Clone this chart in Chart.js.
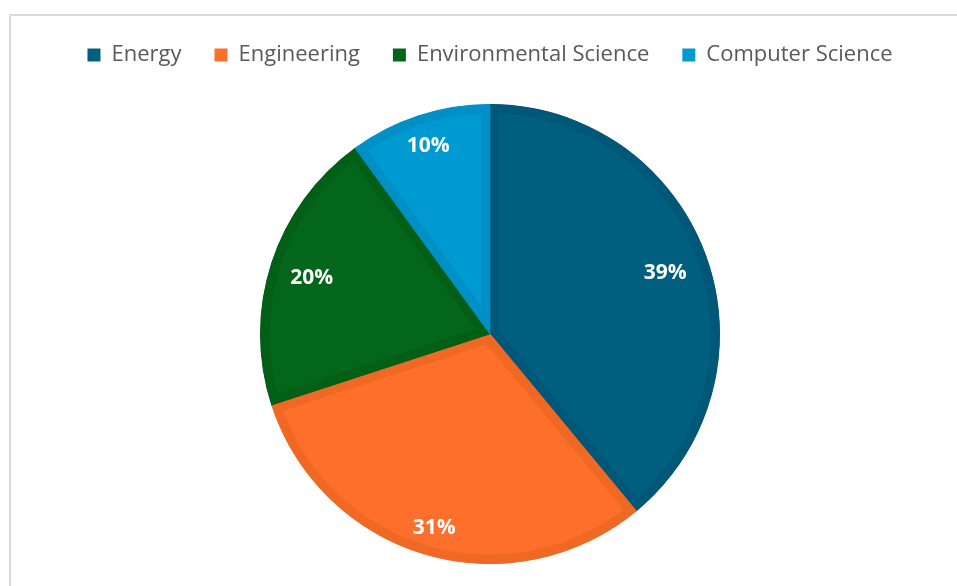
<!DOCTYPE html>
<html>
<head>
<meta charset="utf-8">
<script src="https://cdn.jsdelivr.net/npm/chart.js@4/dist/chart.umd.min.js"></script>
<style>
    html, body { margin: 0; padding: 0; background: #fff; overflow: hidden; }
    #marco {
        position: absolute; left: 9px; top: 14px; width: 1000px; height: 700px;
        border-top: 2px solid #d9d9d9; border-left: 2px solid #d9d9d9;
    }
    #caja { position: absolute; left: 0; top: 0; width: 957px; height: 586px; }
</style>
</head>
<body>
<div id="marco"></div>
<div id="caja"><canvas id="graficoPie"></canvas></div>
<script>
const categorias = ["Energy", "Engineering", "Environmental Science", "Computer Science"];
const porcentajes = [39, 31, 20, 10];
const etiquetas = ["39%", "31%", "20%", "10%"];

const rellenos = ["#005e7e", "#fd6f2a", "#03661a", "#009ad3"];
const bordes = ["#005777", "#ef6824", "#035e16", "#0090c6"];

// distancia de cada etiqueta desde el centro (fraccion del radio)
const distEtiqueta = [0.81, 0.87, 0.815, 0.87];

const pluginEtiquetas = {
    id: 'etiquetas',
    afterDatasetsDraw(chart) {
        const ctx = chart.ctx;
        const meta = chart.getDatasetMeta(0);
        ctx.save();
        ctx.fillStyle = '#ffffff';
        ctx.font = 'bold 21px "Open Sans", "Liberation Sans", sans-serif';
        ctx.textAlign = 'center';
        ctx.textBaseline = 'middle';
        meta.data.forEach((arc, i) => {
            const p = arc.getProps(['x', 'y', 'startAngle', 'endAngle', 'outerRadius'], true);
            const medio = (p.startAngle + p.endAngle) / 2;
            const r = p.outerRadius * distEtiqueta[i];
            ctx.fillText(etiquetas[i], p.x + Math.cos(medio) * r, p.y + Math.sin(medio) * r + 2);
        });
        ctx.restore();
    }
};

// espacio fijo entre la leyenda y el pastel
const pluginEspacio = {
    id: 'espacio',
    beforeInit(chart) {
        const fitOrig = chart.legend.fit;
        chart.legend.fit = function () {
            fitOrig.bind(chart.legend)();
            this.height = 93;
        };
    }
};

const generarOriginal = Chart.overrides.pie.plugins.legend.labels.generateLabels;

new Chart(document.getElementById('graficoPie'), {
    type: 'pie',
    data: {
        labels: categorias,
        datasets: [{
            data: porcentajes,
            backgroundColor: rellenos,
            borderColor: bordes,
            borderWidth: 9,
            borderAlign: 'inner'
        }]
    },
    options: {
        responsive: true,
        maintainAspectRatio: false,
        animation: false,
        layout: { padding: { left: 23, right: 0, top: 11, bottom: 22 } },
        plugins: {
            tooltip: { enabled: false },
            legend: {
                position: 'top',
                labels: {
                    boxWidth: 13,
                    boxHeight: 13,
                    padding: 33,
                    color: '#595959',
                    font: { family: '"Open Sans", "Liberation Sans", sans-serif', size: 22 },
                    generateLabels(chart) {
                        return generarOriginal(chart).map(l => ({ ...l, lineWidth: 0 }));
                    }
                }
            }
        }
    },
    plugins: [pluginEtiquetas, pluginEspacio]
});
</script>
</body>
</html>
